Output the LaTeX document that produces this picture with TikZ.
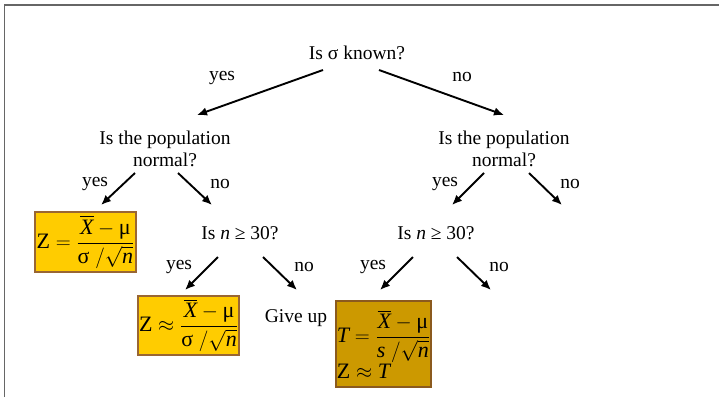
\documentclass[tikz,border=0pt]{standalone}
\usepackage{amsmath}
\usepackage{fontspec}
\setmainfont{Liberation Serif}
\usetikzlibrary{arrows.meta}
\definecolor{gold}{HTML}{FFCC00}
\definecolor{dgold}{HTML}{CC9900}
\definecolor{bbrown}{HTML}{996633}
\definecolor{dbrown}{HTML}{8B5A1E}
\definecolor{framegray}{HTML}{666666}
\newcommand{\gk}[1]{\textrm{#1}}
\begin{document}
\begin{tikzpicture}[x=1pt,y=-1pt,
  lbl/.style={font=\fontsize{19.5}{22}\selectfont, inner sep=0pt, align=center},
  arr/.style={line width=1.9pt, -{Latex[length=10pt,width=8.5pt]}},
  fbox/.style={draw=bbrown, line width=1.3pt, fill=gold, inner sep=1pt, font=\fontsize{22}{25}\selectfont},
]
\useasboundingbox (0,0) rectangle (719,397);
\draw[framegray, line width=1.5pt] (4.5,397) -- (4.5,5) -- (719,5);

% questions
\node[lbl] (q0) at (357,53) {Is σ known?};
\node[lbl] (qL) at (165,149) {Is the population\\normal?};
\node[lbl] (qR) at (504,149) {Is the population\\normal?};
\node[lbl] (nL) at (240,233) {Is \textit{n} ≥ 30?};
\node[lbl] (nR) at (436,233) {Is \textit{n} ≥ 30?};
\node[lbl] (give) at (296,318) {Give up};

% formula boxes
\node[fbox, minimum width=101pt, minimum height=60pt] (fL) at (85.5,242)
  {$\textrm{Z} = \dfrac{\overline{\textit{X}} - \gk{μ}}{\gk{σ}\;/\sqrt{\textit{n}}}$};
\node[fbox, minimum width=99pt, minimum height=59pt] (fM) at (188.5,325.5)
  {$\textrm{Z} \approx \dfrac{\overline{\textit{X}} - \gk{μ}}{\gk{σ}\;/\sqrt{\textit{n}}}$};
\node[fbox, draw=dbrown, fill=dgold, minimum width=95pt, minimum height=86pt, align=left] (fR) at (383.5,344)
  {$\textit{T} = \dfrac{\overline{\textit{X}} - \gk{μ}}{\textit{s}\;/\sqrt{\textit{n}}}$\\[0pt]
   $\textrm{Z} \approx \textit{T}$};

% arrow end points
\coordinate (e1) at (197,115);
\coordinate (e2) at (504,115);
\coordinate (e3) at (101,205);
\coordinate (e4) at (212,205);
\coordinate (e5) at (452,205);
\coordinate (e6) at (562,205);
\coordinate (e7) at (185,290);
\coordinate (e8) at (297,290);
\coordinate (e9) at (380,290);
\coordinate (e10) at (491,290);

\draw[arr] ([shift={(-34,17)}]q0.center) -- (e1);
\draw[arr] ([shift={(22,17)}]q0.center) -- (e2);
\draw[arr] ([shift={(-30,24)}]qL.center) -- (e3);
\draw[arr] ([shift={(13,24)}]qL.center) -- (e4);
\draw[arr] ([shift={(-20,24)}]qR.center) -- (e5);
\draw[arr] ([shift={(25,24)}]qR.center) -- (e6);
\draw[arr] ([shift={(-22,24)}]nL.center) -- (e7);
\draw[arr] ([shift={(23,24)}]nL.center) -- (e8);
\draw[arr] ([shift={(-23,24)}]nR.center) -- (e9);
\draw[arr] ([shift={(21,24)}]nR.center) -- (e10);

% labels
\node[lbl] (y1) at (222,78) {yes};
\node[lbl] (n1) at (462,77) {no};
\node[lbl] (y2) at (95,184) {yes};
\node[lbl] (n2) at (220,184) {no};
\node[lbl] (y3) at (445,184) {yes};
\node[lbl] (n3) at (570,184) {no};
\node[lbl] (y4) at (179,267) {yes};
\node[lbl] (n4) at (304,267) {no};
\node[lbl] (y5) at (373,267) {yes};
\node[lbl] (n5) at (499,267) {no};
\end{tikzpicture}
\end{document}
